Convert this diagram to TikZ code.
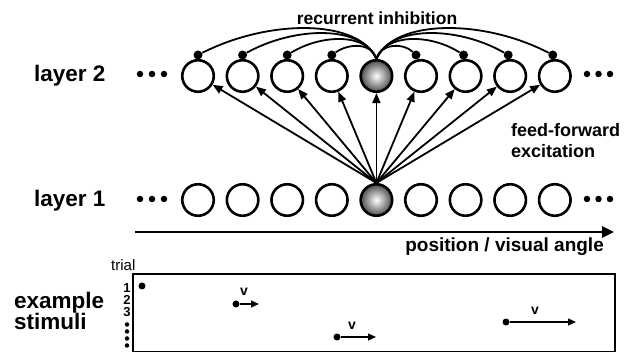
\documentclass[tikz,border=0pt]{standalone}
\usepackage{fontspec}
\setmainfont{Liberation Sans}
\usetikzlibrary{arrows.meta}
\begin{document}
\begin{tikzpicture}[x=1pt,y=-1pt,
  neuron/.style={circle,draw,line width=2.6pt,minimum size=31.5pt,inner sep=0pt},
  active/.style={neuron,inner color=white,outer color=black!70},
  edot/.style={circle,fill,inner sep=0pt,minimum size=6.5pt},
  inhdot/.style={circle,fill,inner sep=0pt,minimum size=9pt},
  ff/.style={line width=1.8pt,-{Triangle[length=10pt,width=8pt]}},
  inh/.style={line width=1.8pt},
  big/.style={font=\bfseries\fontsize{22.5}{24}\selectfont,inner sep=0pt},
  mid/.style={font=\bfseries\fontsize{18}{20}\selectfont,inner sep=0pt},
  stim/.style={circle,fill,inner sep=0pt,minimum size=7pt},
  mv/.style={line width=1.3pt,-{Triangle[length=8pt,width=7pt]}},
  vdot/.style={circle,fill,inner sep=0pt,minimum size=4.5pt},
  num/.style={anchor=base,inner sep=0pt,font=\bfseries\fontsize{13}{13}\selectfont},
  vlab/.style={inner sep=0pt,font=\bfseries\fontsize{14}{14}\selectfont},
]
\useasboundingbox (0,0) rectangle (624,352);

% neurons
\foreach \i/\st in {0/neuron,1/neuron,2/neuron,3/neuron,4/active,5/neuron,6/neuron,7/neuron,8/neuron}{
  \pgfmathsetmacro\xx{198+44.6*\i}
  \node[\st] (l2-\i) at (\xx,76) {};
  \node[\st] (l1-\i) at (\xx,200) {};
}
% ellipsis dots
\foreach \x [count=\k] in {140,152,164}{
  \node[edot] (la\k) at (\x,74) {};
  \node[edot] (lb\k) at (\x,199) {};
}
\foreach \x [count=\k] in {587,598.5,610}{
  \node[edot] (ra\k) at (\x,74) {};
  \node[edot] (rb\k) at (\x,199) {};
}

% inhibitory dots
\node[inhdot] (d0) at (198,55) {};
\node[inhdot] (d1) at (242.6,55) {};
\node[inhdot] (d2) at (287.2,55) {};
\node[inhdot] (d3) at (331.8,55) {};
\node[inhdot] (d5) at (416,55) {};
\node[inhdot] (d6) at (463.6,55) {};
\node[inhdot] (d7) at (508.2,55) {};
\node[inhdot] (d8) at (552.8,55) {};
\coordinate (top) at (376.4,59);

\draw[inh] (top) .. controls (358.6,18.8) and (269.4,18.8) .. (d0);
\draw[inh] (top) .. controls (363.0,25.5) and (296.1,25.5) .. (d1);
\draw[inh] (top) .. controls (367.5,33.5) and (322.9,33.5) .. (d2);
\draw[inh] (top) .. controls (372.0,42.8) and (349.6,42.8) .. (d3);
\draw[inh] (top) .. controls (394.2,18.8) and (483.4,18.8) .. (d8);
\draw[inh] (top) .. controls (389.8,25.5) and (456.7,25.5) .. (d7);
\draw[inh] (top) .. controls (385.3,33.5) and (429.9,33.5) .. (d6);
\draw[inh] (top) .. controls (380.8,42.8) and (403.2,42.8) .. (d5);

% feed-forward arrows
\foreach \i in {0,...,8}{
  \draw[ff] (l1-4.north) -- (l2-\i);
}

% axis
\coordinate (ax0) at (135,232);
\coordinate (ax1) at (614,232);
\draw[line width=2.5pt,-{Triangle[length=12pt,width=11pt]}] (ax0) -- (ax1);

% labels
\node[big,anchor=base west] (lay2) at (34,82) {layer 2};
\node[big,anchor=base west] (lay1) at (34,207) {layer 1};
\node[mid,font=\bfseries\fontsize{17.5}{20}\selectfont] (rec) at (377,18) {recurrent inhibition};
\node[mid,anchor=west] (ff1) at (511,130) {feed-forward};
\node[mid,anchor=west] (ff2) at (511,151) {excitation};
\node[mid,anchor=east,font=\bfseries\fontsize{19}{20}\selectfont] (pos) at (604,247) {position / visual angle};

% stimuli
\node[big,anchor=base west] (ex1) at (14,309) {example};
\node[big,anchor=base west] (ex2) at (14,330) {stimuli};
\node[anchor=base west,inner sep=0pt,font=\fontsize{15}{15}\selectfont] (trial) at (111,271) {trial};
\node[num] (n1) at (127,293) {1};
\node[num] (n2) at (127,305) {2};
\node[num] (n3) at (127,317) {3};
\foreach \y [count=\k] in {324.5,331.5,338.5,345.5}{
  \node[vdot] (vd\k) at (127,\y) {};
}
\draw[line width=1.5pt] (133,274) rectangle (615,351.5);

\node[stim] (s1) at (142,286) {};
\node[stim] (s2) at (236,304) {};
\coordinate (e2) at (259,304);
\node[stim] (s3) at (337,337) {};
\coordinate (e3) at (376,337);
\node[stim] (s4) at (506,322) {};
\coordinate (e4) at (576,322);
\draw[mv] (s2) -- (e2);
\draw[mv] (s3) -- (e3);
\draw[mv] (s4) -- (e4);
\node[vlab] (v2) at (244,292) {v};
\node[vlab] (v3) at (352,326) {v};
\node[vlab] (v4) at (535,311) {v};
\end{tikzpicture}
\end{document}
